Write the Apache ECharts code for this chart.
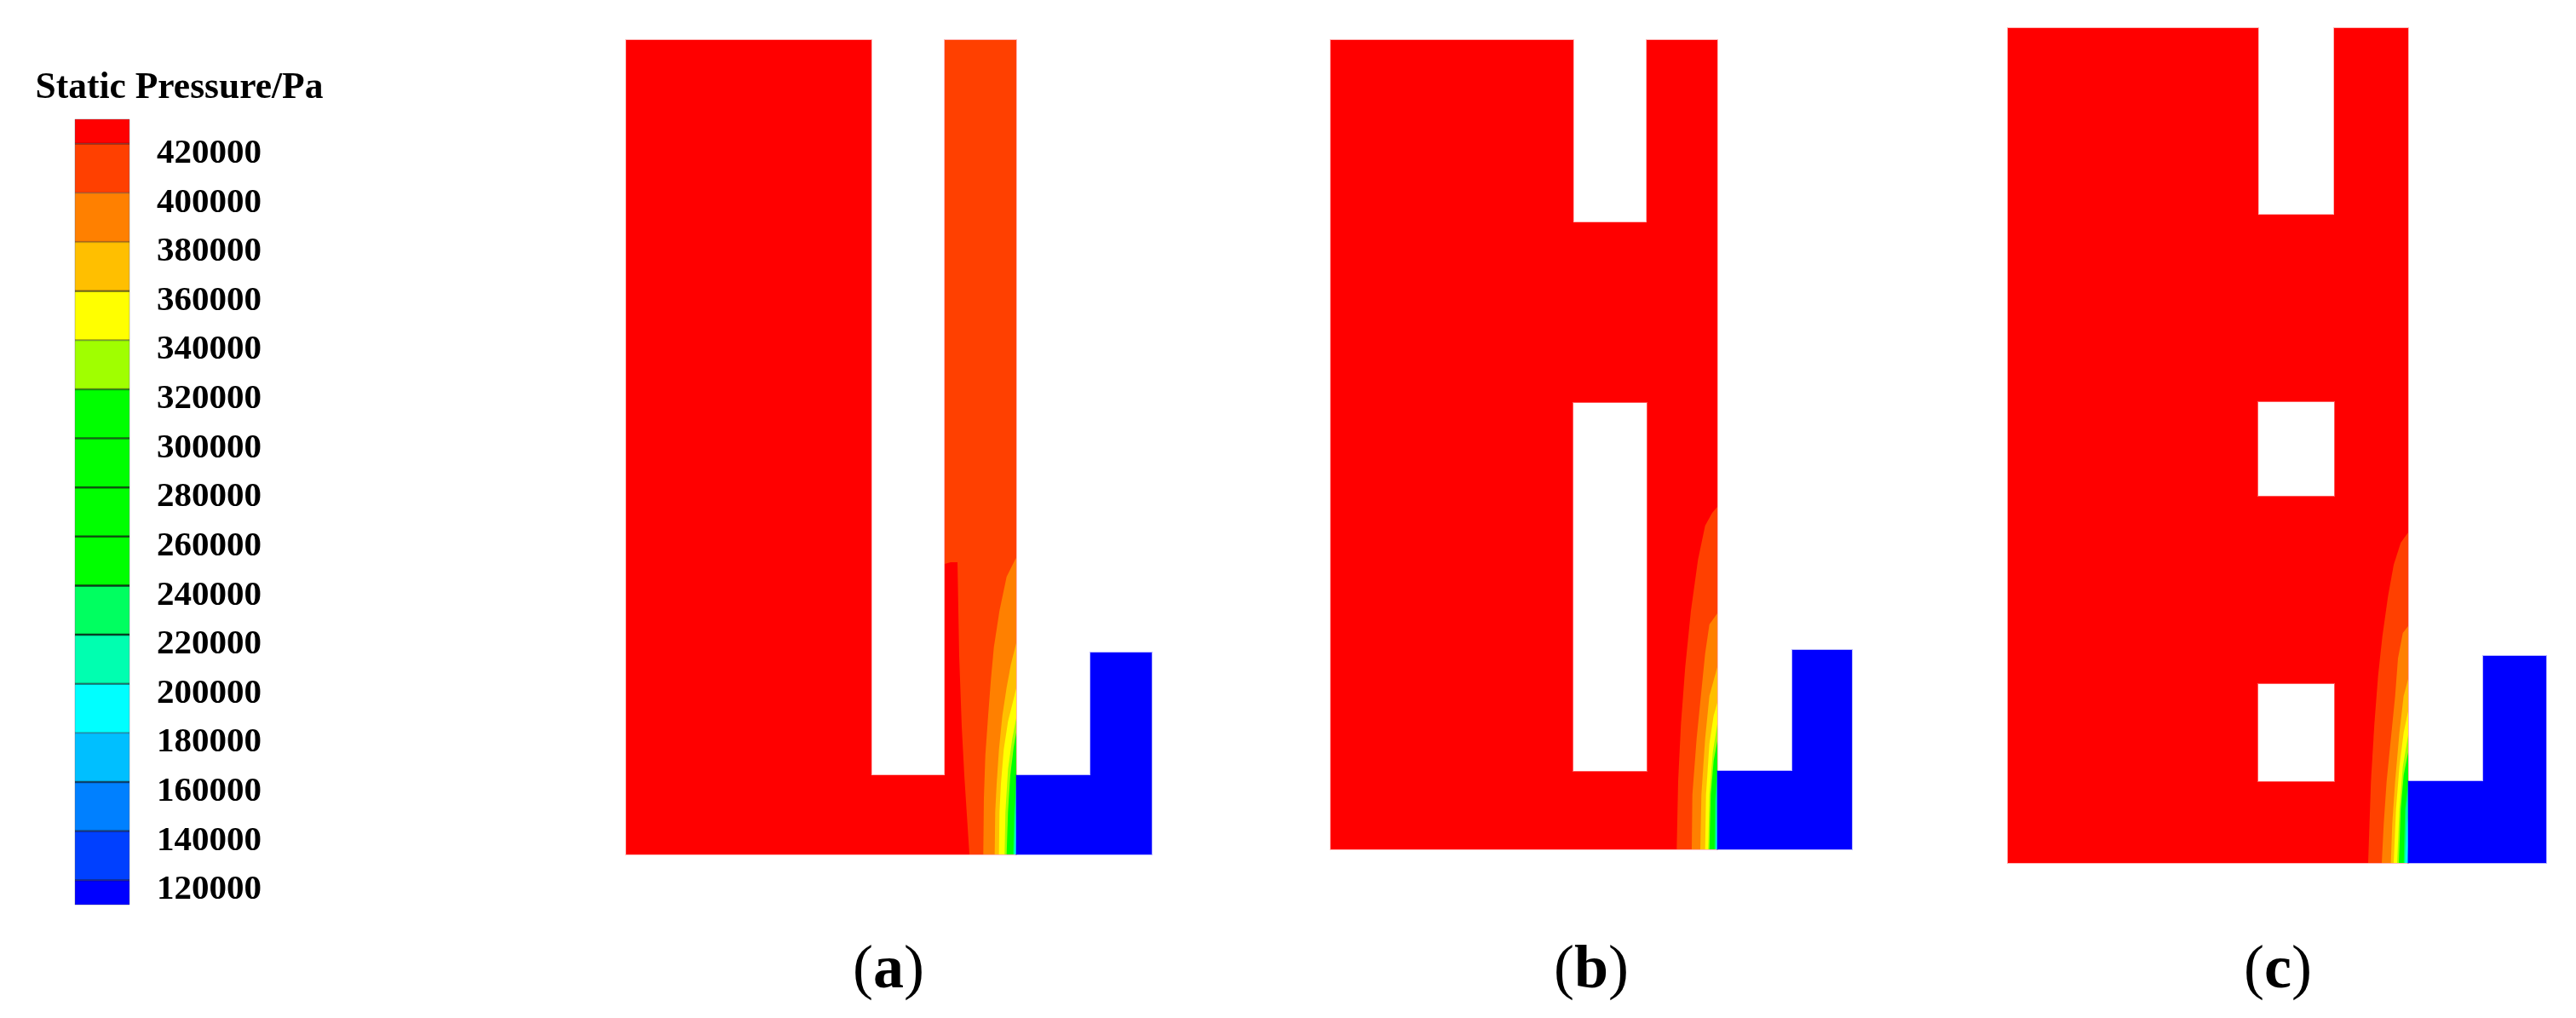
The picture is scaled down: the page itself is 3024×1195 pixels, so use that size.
<!DOCTYPE html>
<html>
<head>
<meta charset="utf-8">
<title>Static Pressure</title>
<style>
  html, body { margin: 0; padding: 0; background: #fff; }
  #chart { width: 3024px; height: 1195px; }
</style>
<script src="https://cdn.jsdelivr.net/npm/echarts@6/dist/echarts.min.js"></script>
</head>
<body>
<div id="chart"></div>
<script>
// colour bar
var tickValues = [420000, 400000, 380000, 360000, 340000, 320000, 300000, 280000, 260000, 240000, 220000, 200000, 180000, 160000, 140000, 120000]
var barEdges = [430000, 420000, 400000, 380000, 360000, 340000, 320000, 300000, 280000, 260000, 240000, 220000, 200000, 180000, 160000, 140000, 120000, 110000]
var barColors = ['#ff0000', '#ff4000', '#ff8000', '#ffbf00', '#ffff00', '#a0ff00', '#00ff00', '#00ff00', '#00ff00', '#00ff00', '#00ff60', '#00ffb0', '#00ffff', '#00bfff', '#0080ff', '#0040ff', '#0000ff']
var edgeAlpha = [0.25, 0.1, 0.15, 0.4, 0.2, 0.35, 0.5, 0.6, 0.6, 0.7, 0.7, 0.4, 0.15, 0.5, 0.4, 0.3]

// contour colours, low pressure side of each level, painted in this order
var levelColors = ['#ff4000', '#ff8000', '#ffbf00', '#ffff00', '#a0ff00', '#00ff00', '#00ff60', '#00ffb0', '#00ffff', '#00bfff']

// panel (a), x from the left edge, y up from the bottom edge
var shapeA = [[0, 0], [458, 0], [458, 956], [374, 956], [374, 93], [288, 93], [288, 956], [0, 956]]
var lowSideA = [[458, 0], [617, 0], [617, 237], [545, 237], [545, 93], [458, 93]]
var holesA = []
var levelsA = [
  [[403, 0], [397, 93], [394, 150], [391, 233], [389, 343], [381, 343], [374, 341], [374, 956], [458, 956]],
  [[419.3, 0], [420, 66], [421.7, 116], [425, 163], [428.3, 206], [431.7, 243], [438.3, 286], [446.7, 326], [456.7, 346], [458, 348]],
  [[432.7, 0], [433.3, 50], [435, 83], [437.7, 123], [441.7, 163], [446.7, 196], [451.7, 223], [458, 248]],
  [[437.7, 0], [438.3, 50], [440, 83], [443.3, 123], [448.3, 156], [453.3, 176], [458, 195]],
  [[444.3, 0], [445.3, 50], [448.3, 100], [453.3, 136], [458, 160]],
  [[446.7, 0], [448.3, 50], [451, 93], [455, 126], [458, 143]],
  [[454.3, 0], [455.7, 50], [458, 88]],
  [[455.3, 0], [456.7, 50], [458, 85]],
  [[456.3, 0], [457.7, 50], [458, 45]],
  [[457.3, 0], [458, 20]]
]

// panel (b)
var shapeB = [[0, 0], [454, 0], [454, 950], [371, 950], [371, 736], [285, 736], [285, 950], [0, 950]]
var lowSideB = [[454, 0], [612, 0], [612, 234], [542, 234], [542, 92], [454, 92]]
var holesB = [[[285, 92], [371, 92], [371, 524], [285, 524]]]
var levelsB = [
  [[406.3, 0], [408, 80], [411.3, 147], [416.3, 214], [423, 280], [431.3, 340], [439.7, 380], [448, 395], [454, 402]],
  [[424, 0], [424.7, 64], [429.7, 130], [434.7, 180], [439.7, 230], [444.7, 264], [454, 277]],
  [[434, 0], [435.3, 64], [439.7, 130], [444.7, 180], [454, 214]],
  [[439.7, 0], [440.7, 64], [444.7, 124], [449.7, 157], [454, 172]],
  [[443.3, 0], [444.7, 64], [448.7, 114], [454, 147]],
  [[444.7, 0], [446.3, 64], [449.7, 104], [454, 127]],
  [[450.7, 0], [451.3, 57], [454, 97]],
  [[451.7, 0], [452.7, 57], [454, 80]],
  [[452.7, 0], [454, 50]],
  [[453.7, 0], [454, 20]]
]

// panel (c)
var shapeC = [[0, 0], [470, 0], [470, 980], [383, 980], [383, 761], [294, 761], [294, 980], [0, 980]]
var lowSideC = [[470, 0], [632, 0], [632, 243], [558, 243], [558, 96], [470, 96]]
var holesC = [
  [[294, 431], [383, 431], [383, 541], [294, 541]],
  [[294, 96], [383, 96], [383, 210], [294, 210]]
]
var levelsC = [
  [[423, 0], [426.3, 96], [430.3, 163], [434.7, 220], [439.7, 266], [446.3, 313], [453, 350], [461.3, 376], [470, 388]],
  [[439, 0], [441.3, 46], [444.7, 96], [449.7, 146], [454.7, 196], [458, 240], [463.7, 270], [470, 278]],
  [[449.7, 0], [451.3, 46], [454.7, 96], [459.7, 153], [464.7, 196], [470, 216]],
  [[453, 0], [455.7, 63], [459.7, 113], [464.7, 153], [470, 178]],
  [[457, 0], [459.7, 63], [463.7, 113], [470, 150]],
  [[459, 0], [461.3, 63], [464.7, 103], [470, 130]],
  [[464.7, 0], [466.3, 63], [470, 96]],
  [[465.7, 0], [467.7, 63], [470, 85]],
  [[467, 0], [469, 53], [470, 45]],
  [[468.3, 0], [470, 20]]
]

var chart = echarts.init(document.getElementById('chart'))
var serif = 'Liberation Serif'

function polygon(points, api, fill, stroke) {
  return {
    type: 'polygon',
    shape: { points: points.map(function (p) { return api.coord(p) }) },
    style: { fill: fill, stroke: stroke || null, lineWidth: stroke ? 2 : 0 }
  }
}

function panelSeries(grid, shape, lowSide, holes, levels) {
  var wall = shape[1][0]
  return {
    type: 'custom',
    xAxisIndex: grid,
    yAxisIndex: grid,
    clip: false,
    silent: true,
    data: [[0, 0]],
    renderItem: function (params, api) {
      var children = [polygon(shape, api, '#ff0000', 'rgba(255,0,0,0.28)')]
      holes.forEach(function (h) {
        children.push(polygon(h, api, '#ffffff', 'rgba(255,255,255,0.35)'))
      })
      levels.forEach(function (l, i) {
        children.push(polygon(l.concat([[wall, 0]]), api, levelColors[i]))
      })
      children.push(polygon(lowSide, api, '#0000ff', 'rgba(0,0,255,0.28)'))
      return { type: 'group', children: children }
    }
  }
}

function panelLabel(letter, x) {
  return {
    text: '{p|(}{b|' + letter + '}{p|)}',
    left: x,
    top: 1099,
    textAlign: 'center',
    textStyle: {
      fontWeight: 'normal',
      rich: {
        p: { fontFamily: serif, fontSize: 72, fontWeight: 'normal', color: '#000' },
        b: { fontFamily: serif, fontSize: 72, fontWeight: 'bold', color: '#000' }
      }
    }
  }
}

function hiddenX(grid, w) {
  return { type: 'value', gridIndex: grid, min: 0, max: w, show: false }
}
function hiddenY(grid, h) {
  return { type: 'value', gridIndex: grid, min: 0, max: h, show: false }
}

chart.setOption({
  animation: false,
  backgroundColor: '#fff',
  title: [
    {
      text: 'Static Pressure/Pa',
      left: 205.5,
      top: 77,
      textAlign: 'center',
      textStyle: { fontFamily: serif, fontSize: 43.5, fontWeight: 'bold', color: '#000' }
    },
    panelLabel('a', 1038),
    panelLabel('b', 1863),
    panelLabel('c', 2669)
  ],
  grid: [
    { left: 88, top: 140, width: 64, height: 922 },
    { left: 735, top: 47, width: 617, height: 956 },
    { left: 1562, top: 47, width: 612, height: 950 },
    { left: 2357, top: 33, width: 632, height: 980 }
  ],
  xAxis: [
    { type: 'value', gridIndex: 0, min: 0, max: 1, show: false },
    hiddenX(1, 617),
    hiddenX(2, 612),
    hiddenX(3, 632)
  ],
  yAxis: [
    {
      type: 'value',
      gridIndex: 0,
      position: 'right',
      min: 110000,
      max: 430000,
      axisLine: { show: false },
      axisTick: { show: false, customValues: tickValues },
      splitLine: { show: false },
      axisLabel: {
        customValues: tickValues,
        formatter: function (v) { return String(v) },
        margin: 32,
        verticalAlign: 'top',
        lineHeight: 23,
        fontFamily: serif,
        fontSize: 41,
        fontWeight: 'bold',
        color: '#000'
      }
    },
    hiddenY(1, 956),
    hiddenY(2, 950),
    hiddenY(3, 980)
  ],
  series: [
    {
      type: 'custom',
      xAxisIndex: 0,
      yAxisIndex: 0,
      clip: false,
      silent: true,
      data: barColors.map(function (c, i) { return [0, barEdges[i + 1], barEdges[i], i] }),
      renderItem: function (params, api) {
        var i = api.value(3)
        var top = api.coord([0, api.value(2)])
        var bottom = api.coord([1, api.value(1)])
        var children = [{
          type: 'rect',
          shape: { x: top[0], y: top[1], width: bottom[0] - top[0], height: bottom[1] - top[1] },
          style: { fill: barColors[i], stroke: 'rgba(90,90,110,0.35)', lineWidth: 1 }
        }]
        if (i > 0) {
          children.push({
            type: 'line',
            shape: { x1: top[0], y1: top[1], x2: bottom[0], y2: top[1] },
            style: { stroke: 'rgba(0,0,0,' + edgeAlpha[i - 1] + ')', lineWidth: 2.5 },
            z2: 5
          })
        }
        return { type: 'group', children: children }
      }
    },
    panelSeries(1, shapeA, lowSideA, holesA, levelsA),
    panelSeries(2, shapeB, lowSideB, holesB, levelsB),
    panelSeries(3, shapeC, lowSideC, holesC, levelsC)
  ]
})
</script>
</body>
</html>
